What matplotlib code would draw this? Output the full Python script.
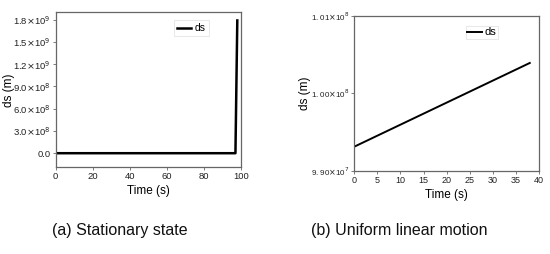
import matplotlib
matplotlib.use("Agg")
import matplotlib.pyplot as plt

plt.rcParams['font.family'] = ['Liberation Sans', 'DejaVu Sans']

# (a) Stationary state
time_a = [0, 97, 98]
ds_a = [0.0, 0.0, 1.79e9]
yticks_a = [0.0, 3e8, 6e8, 9e8, 1.2e9, 1.5e9, 1.8e9]
ylabels_a = ['0.0', r'3.0$\times$10$^{8}$', r'6.0$\times$10$^{8}$', r'9.0$\times$10$^{8}$',
             r'1.2$\times$10$^{9}$', r'1.5$\times$10$^{9}$', r'1.8$\times$10$^{9}$']
xticks_a = [0, 20, 40, 60, 80, 100]

# (b) Uniform linear motion
time_b = [0, 38]
ds_b = [9.931e7, 1.0039e8]
yticks_b = [9.90e7, 1.00e8, 1.01e8]
ylabels_b = [r'9. 90$\times$10$^{7}$', r'1. 00$\times$10$^{8}$', r'1. 01$\times$10$^{8}$']
xticks_b = [0, 5, 10, 15, 20, 25, 30, 35, 40]

captions = ['(a) Stationary state', '(b) Uniform linear motion']

W, H = 550, 254
fig = plt.figure(figsize=(5.5, 2.54), dpi=100)

spine_c = '#666666'

def style(ax, fs):
    for s in ax.spines.values():
        s.set_color(spine_c)
        s.set_linewidth(0.9)
    ax.tick_params(direction='out', length=2, width=0.6, colors=spine_c,
                   labelcolor='#222222', labelsize=fs, pad=1.5)

# left axes
ax1 = fig.add_axes([55.7 / W, 1 - 167.3 / H, (241 - 55.7) / W, (167.3 - 12.3) / H])
ax1.plot(time_a, ds_a, color='black', lw=1.8, label='ds')
ax1.set_xlim(0, 100)
ax1.set_ylim(-1.9e8, 1.9e9)
ax1.set_xticks(xticks_a)
ax1.set_yticks(yticks_a)
ax1.set_yticklabels(ylabels_a)
style(ax1, 6.8)
ax1.set_xlabel('Time (s)', fontsize=8.5, labelpad=3)
ax1.set_ylabel('ds (m)', fontsize=8.5)
ax1.yaxis.set_label_coords(-0.222, 0.5)
leg1 = ax1.legend(loc='upper right', bbox_to_anchor=(0.825, 0.95), fontsize=7.5,
                  frameon=True, fancybox=False, handlelength=1.3, handletextpad=0.35,
                  borderpad=0.3, borderaxespad=0)
leg1.get_frame().set_edgecolor('#dddddd')
leg1.get_frame().set_linewidth(0.6)

# right axes
ax2 = fig.add_axes([354.3 / W, 1 - 170.7 / H, (539 - 354.3) / W, (170.7 - 15.7) / H])
ax2.plot(time_b, ds_b, color='black', lw=1.4, label='ds')
ax2.set_xlim(0, 40)
ax2.set_ylim(9.90e7, 1.01e8)
ax2.set_xticks(xticks_b)
ax2.set_yticks(yticks_b)
ax2.set_yticklabels(ylabels_b)
style(ax2, 6.5)
ax2.tick_params(axis='y', labelsize=5.8)
ax2.set_xlabel('Time (s)', fontsize=8.5, labelpad=3)
ax2.set_ylabel('ds (m)', fontsize=8.5)
ax2.yaxis.set_label_coords(-0.232, 0.5)
leg2 = ax2.legend(loc='upper right', bbox_to_anchor=(0.78, 0.935), fontsize=8,
                  frameon=True, fancybox=False, handlelength=1.3, handletextpad=0.3,
                  borderpad=0.15, borderaxespad=0)
leg2.get_frame().set_edgecolor('#dddddd')
leg2.get_frame().set_linewidth(0.6)

fig.text(120 / W, 1 - 230 / H, captions[0], ha='center', va='center', fontsize=11.5, color='#111111')
fig.text(399 / W, 1 - 230 / H, captions[1], ha='center', va='center', fontsize=11.5, color='#111111')

fig.savefig('out.png', dpi=100, facecolor='white')
